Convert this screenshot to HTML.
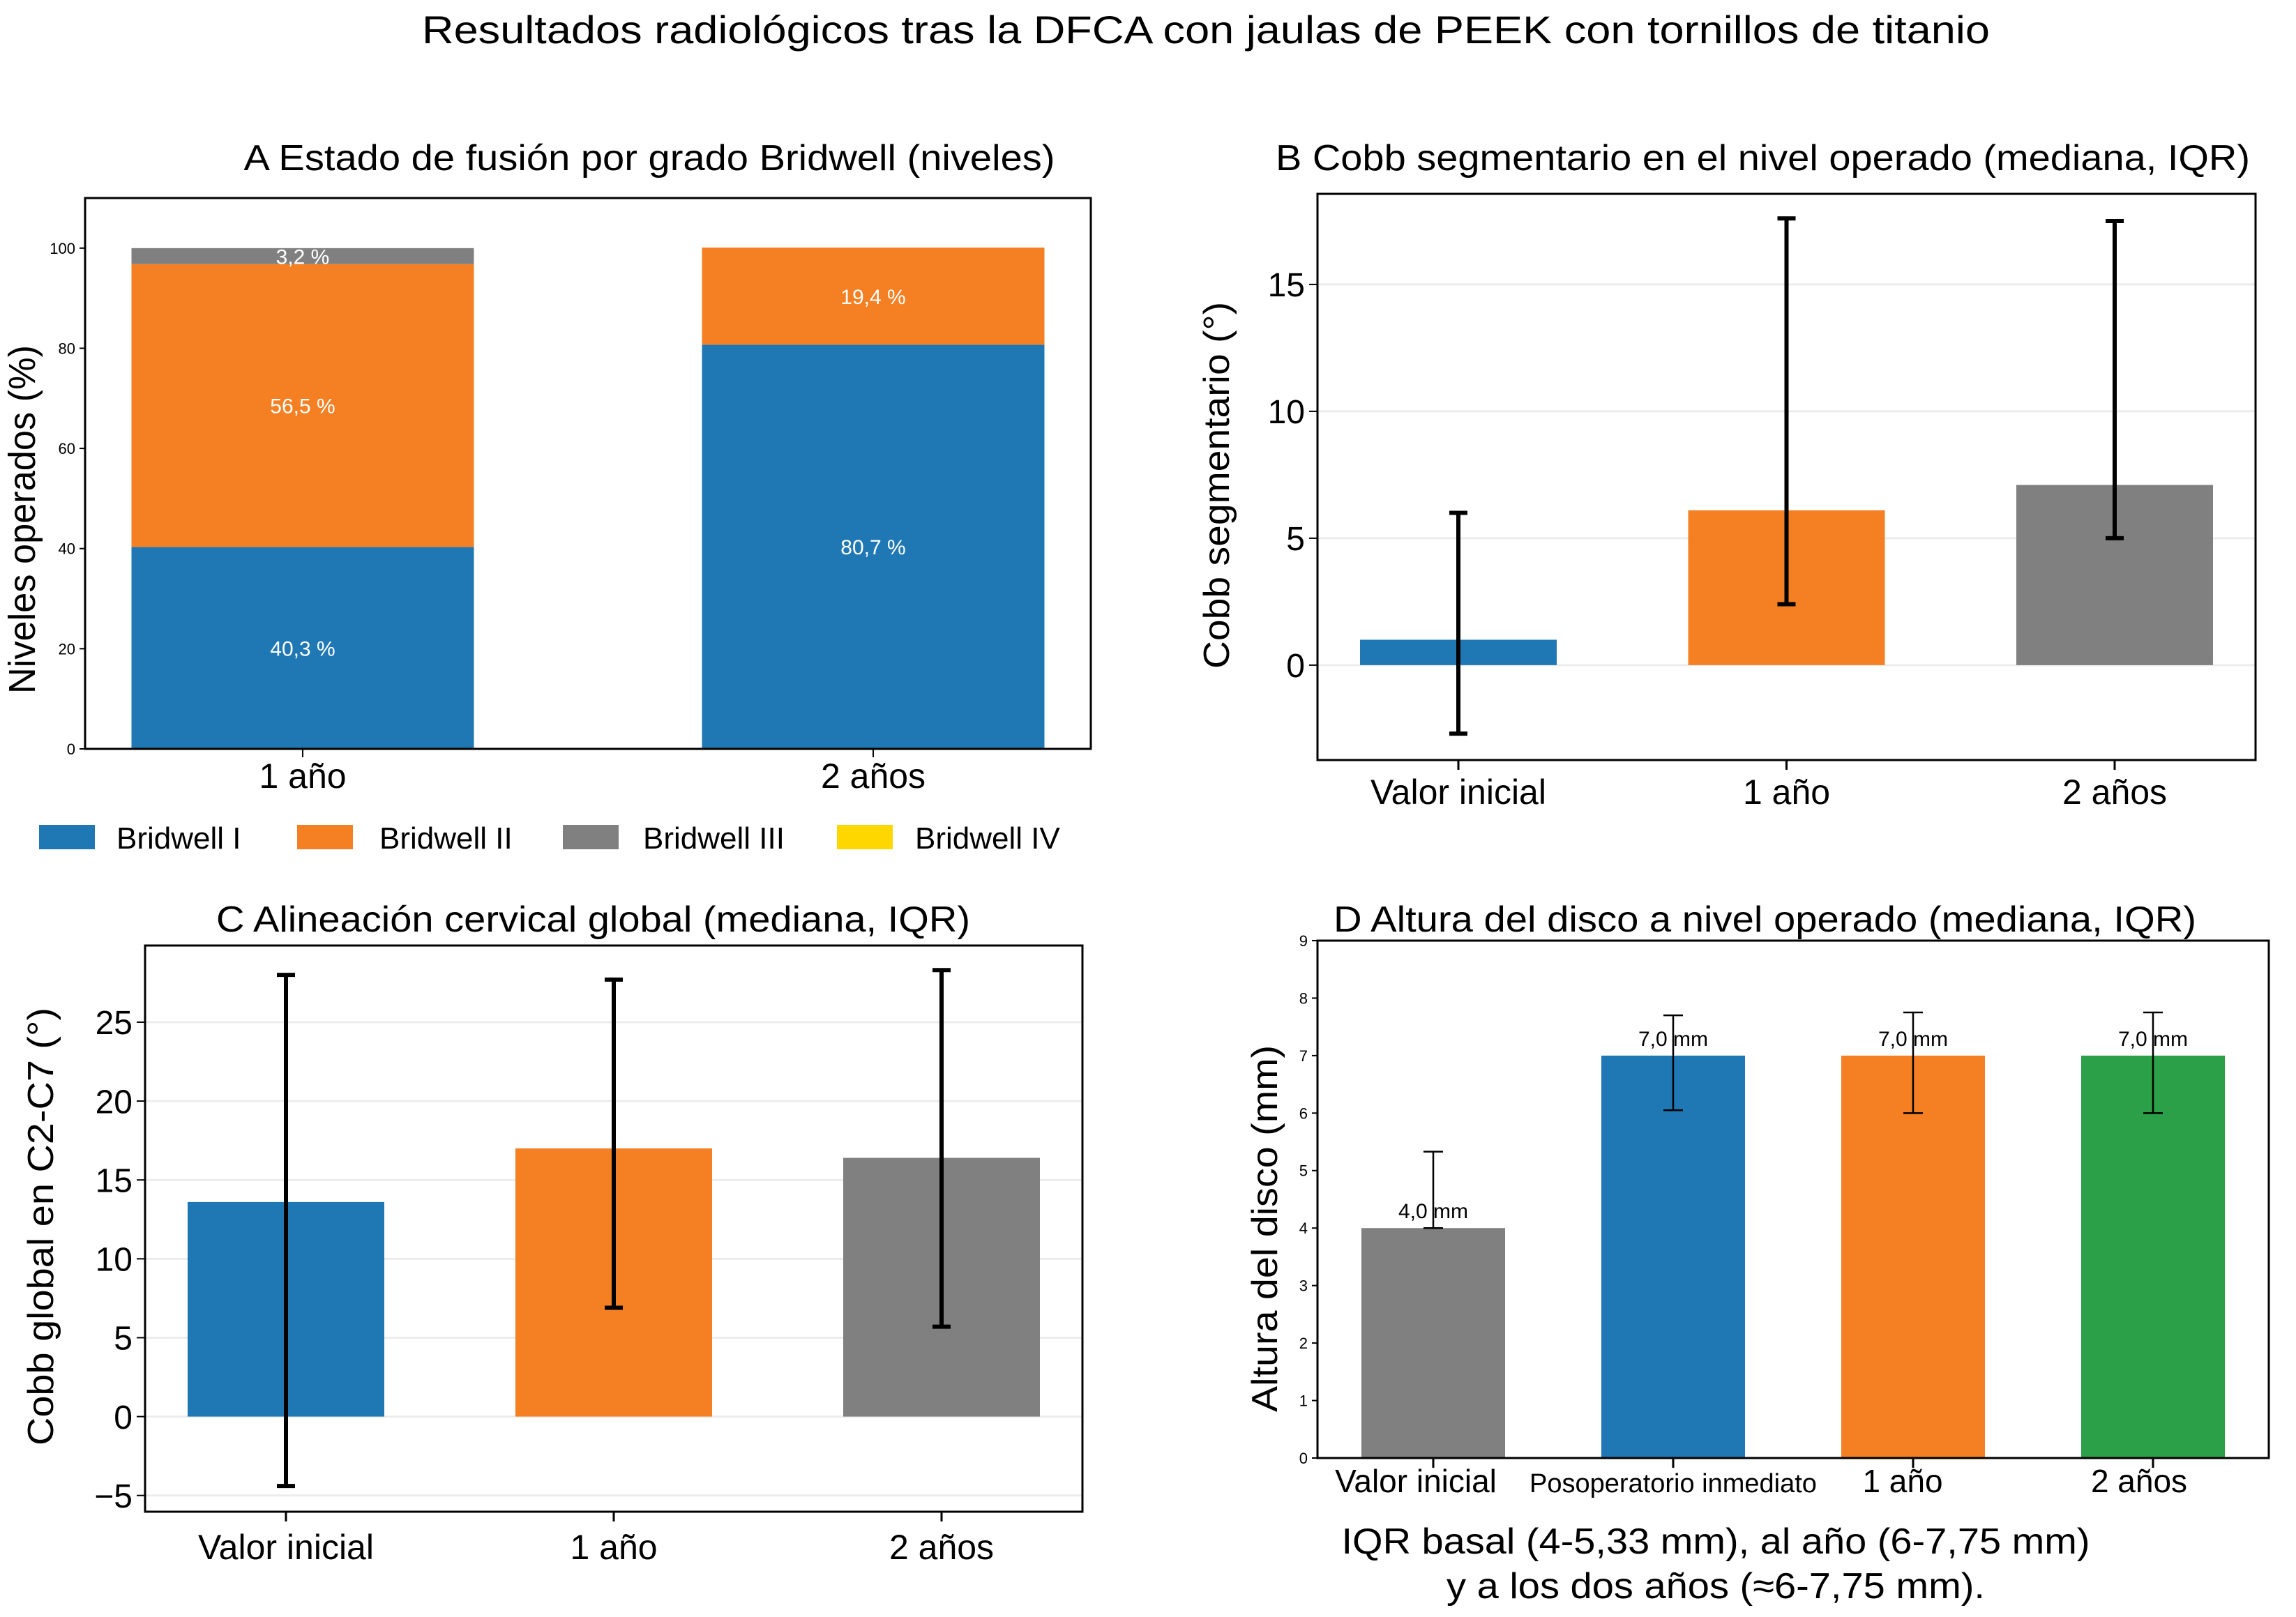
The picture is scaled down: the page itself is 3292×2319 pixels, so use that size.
<!DOCTYPE html>
<html><head><meta charset="utf-8"><style>body{margin:0;background:#fff;overflow:hidden}svg{display:block}text{font-family:"Liberation Sans",sans-serif;fill:#000}</style></head>
<body>
<svg id="fig" width="3292" height="2319" viewBox="0 0 3292 2319" xmlns="http://www.w3.org/2000/svg">
<text x="1729" y="62" font-size="56" text-anchor="middle" textLength="2248" lengthAdjust="spacingAndGlyphs">Resultados radiológicos tras la DFCA con jaulas de PEEK con tornillos de titanio</text>
</svg>
<script>
const NS='http://www.w3.org/2000/svg';
const svg=document.getElementById('fig');
function el(tag,attrs,parent,txt){const e=document.createElementNS(NS,tag);for(const k in attrs)e.setAttribute(k,attrs[k]);if(txt!==undefined)e.textContent=txt;(parent||svg).appendChild(e);return e;}

// ---- Panel A data ----
const aCategories=['1 año','2 años'];
const aBridwellI=[40.3,80.7];
const aBridwellII=[56.5,19.4];
const aBridwellIII=[3.2,0];
const aBridwellIV=[0,0];
const aTicks=[0,20,40,60,80,100];
// ---- Panel B data ----
const bCategories=['Valor inicial','1 año','2 años'];
const bMedian=[1.0,6.1,7.1];
const bLow=[-2.7,2.4,5.0];
const bHigh=[6.0,17.6,17.5];
const bTicks=[0,5,10,15];
// ---- Panel C data ----
const cCategories=['Valor inicial','1 año','2 años'];
const cMedian=[13.6,17.0,16.4];
const cLow=[-4.4,6.9,5.7];
const cHigh=[28.0,27.7,28.3];
const cTicks=[-5,0,5,10,15,20,25];
// ---- Panel D data ----
const dCategories=['Valor inicial','Posoperatorio inmediato','1 año','2 años'];
const dMedian=[4.0,7.0,7.0,7.0];
const dLow=[4.0,6.05,6.0,6.0];
const dHigh=[5.33,7.7,7.75,7.75];
const dLabels=['4,0 mm','7,0 mm','7,0 mm','7,0 mm'];
const dTicks=[0,1,2,3,4,5,6,7,8,9];

const BLUE='#1f77b4',ORANGE='#f58023',GRAY='#808080',GREEN='#2ca048',YELLOW='#ffd700';

function makeAxis(o){
  const g=el('g',{});
  
  
  const y=v=>o.y0+(v-o.ymin)/(o.ymax-o.ymin)*(o.y1-o.y0);
  const n=o.cats.length;
  const x=i=>o.x0+o.pad+(i)*(o.x1-o.x0-2*o.pad)/(n-1);
  return {g,y,x};
}
function frame(g,o,name){
  const r=el('rect',{x:o.x0,y:o.y1,width:o.x1-o.x0,height:o.y0-o.y1,fill:'none',stroke:'#000','stroke-width':o.sw||3},g);
  
}

// ===== Panel A =====
(function(){
  const o={name:'panel-a',x0:122,x1:1564,y0:1074,y1:284,ymin:0,ymax:110,cats:aCategories,pad:312};
  const A=makeAxis(o);const g=A.g;
  const t=el('text',{x:931,y:244,'font-size':52,'text-anchor':'middle',textLength:1163,lengthAdjust:'spacingAndGlyphs'},g,'A Estado de fusión por grado Bridwell (niveles)');
  
  const bw=491;
  const series=[[aBridwellI,BLUE,'bridwell-i'],[aBridwellII,ORANGE,'bridwell-ii'],[aBridwellIII,GRAY,'bridwell-iii'],[aBridwellIV,YELLOW,'bridwell-iv']];
  aCategories.forEach((c,i)=>{
    let base=0;const cx=A.x(i);
    series.forEach(s=>{
      const v=s[0][i];if(v>0){
        const r=el('rect',{x:cx-bw/2,y:A.y(base+v),width:bw,height:A.y(base)-A.y(base+v),fill:s[1]},g);
        
        const lbl=el('text',{x:cx,y:(A.y(base+v)+A.y(base))/2+11,'font-size':30,'text-anchor':'middle',style:'fill:#fff'},g,v.toFixed(1).replace('.',',')+' %');
        
      }
      base+=v;
    });
    el('line',{x1:cx,x2:cx,y1:o.y0,y2:o.y0+12,stroke:'#000','stroke-width':2},g);
    const tl=el('text',{x:cx,y:1130,'font-size':50,'text-anchor':'middle'},g,c);
    
  });
  aTicks.forEach(v=>{
    el('line',{x1:o.x0-8,x2:o.x0,y1:A.y(v),y2:A.y(v),stroke:'#000','stroke-width':2},g);
    const tl=el('text',{x:o.x0-14,y:A.y(v)+8,'font-size':22,'text-anchor':'end'},g,String(v));
    
  });
  frame(g,o,'panel-a-frame');
  const yl=el('text',{x:0,y:0,'font-size':54,'text-anchor':'middle',transform:'translate(50,745) rotate(-90)',textLength:500,lengthAdjust:'spacingAndGlyphs'},g,'Niveles operados (%)');
  
  const leg=[[56,167,BLUE,'Bridwell I'],[426,544,ORANGE,'Bridwell II'],[807,922,GRAY,'Bridwell III'],[1200,1312,YELLOW,'Bridwell IV']];
  leg.forEach(L=>{
    const lg=el('g',{},g);
    el('rect',{x:L[0],y:1183,width:80,height:35,fill:L[2]},lg);
    el('text',{x:L[1],y:1217,'font-size':44},lg,L[3]);
  });
})();

// ===== Generic bar+IQR panel =====
function iqrPanel(o,cats,med,lo,hi,ticks,colors,title,ylabel,extra){
  const A=makeAxis(o);const g=A.g;
  const t=el('text',{x:(o.tx0+o.tx1)/2,y:o.ty,'font-size':52,'text-anchor':'middle',textLength:o.tx1-o.tx0,lengthAdjust:'spacingAndGlyphs'},g,title);
  
  if(o.grid) ticks.forEach(v=>{el('line',{x1:o.x0,x2:o.x1,y1:A.y(v),y2:A.y(v),stroke:'#ececec','stroke-width':3},g);});
  cats.forEach((c,i)=>{
    const cx=A.x(i);
    const r=el('rect',{x:cx-o.bw/2,y:A.y(med[i]),width:o.bw,height:A.y(0)-A.y(med[i]),fill:colors[i]},g);
    
    const eg=el('g',{stroke:'#000','stroke-width':o.esw},g);
    
    el('line',{x1:cx,x2:cx,y1:A.y(lo[i]),y2:A.y(hi[i])},eg);
    el('line',{x1:cx-o.cap,x2:cx+o.cap,y1:A.y(lo[i]),y2:A.y(lo[i])},eg);
    el('line',{x1:cx-o.cap,x2:cx+o.cap,y1:A.y(hi[i]),y2:A.y(hi[i])},eg);
    el('line',{x1:cx,x2:cx,y1:o.y0,y2:o.y0+14,stroke:'#000','stroke-width':3},g);
    const tl=el('text',{x:cx+(o.xoff?o.xoff[i]:0),y:o.xly,'font-size':o.xfs[i]||o.xfs[0],'text-anchor':'middle'},g,c);
    
    if(extra){const l=el('text',{x:cx,y:A.y(med[i])-14,'font-size':30,'text-anchor':'middle'},g,extra[i]);}
  });
  ticks.forEach(v=>{
    el('line',{x1:o.x0-o.tk,x2:o.x0,y1:A.y(v),y2:A.y(v),stroke:'#000','stroke-width':2},g);
    const tl=el('text',{x:o.x0-o.tk-6,y:A.y(v)+o.yfs*0.36,'font-size':o.yfs,'text-anchor':'end'},g,String(v).replace('-','−'));
    
  });
  frame(g,o,o.name+'-frame');
  const yl=el('text',{x:0,y:0,'font-size':52,'text-anchor':'middle',transform:'translate('+o.ylx+','+o.yly+') rotate(-90)',textLength:o.ylen,lengthAdjust:'spacingAndGlyphs'},g,ylabel);
  
  return g;
}

iqrPanel({name:'panel-b',x0:1889,x1:3234,y0:1090,y1:278,ymin:-3.74,ymax:18.57,cats:bCategories,pad:202,bw:282,esw:6,cap:13,grid:true,tk:12,yfs:48,xfs:[50],xly:1153,tx0:1829,tx1:3226,ty:244,ylx:1762,yly:696,ylen:526},
  bCategories,bMedian,bLow,bHigh,bTicks,[BLUE,ORANGE,GRAY],'B Cobb segmentario en el nivel operado (mediana, IQR)','Cobb segmentario (°)');

iqrPanel({name:'panel-c',x0:208,x1:1552,y0:2168,y1:1356,ymin:-6.03,ymax:29.86,cats:cCategories,pad:202,bw:282,esw:6,cap:13,grid:true,tk:12,yfs:48,xfs:[50],xly:2236,tx0:310,tx1:1391,ty:1336,ylx:76,yly:1759,ylen:628},
  cCategories,cMedian,cLow,cHigh,cTicks,[BLUE,ORANGE,GRAY],'C Alineación cervical global (mediana, IQR)','Cobb global en C2-C7 (°)');

iqrPanel({name:'panel-d',x0:1889,x1:3253,y0:2091,y1:1349,ymin:0,ymax:9,cats:dCategories,pad:166,bw:206,esw:2.5,cap:14,grid:false,tk:8,yfs:22,xfs:[46,38,46,46],xoff:[-25,0,-15,-20],xly:2140,tx0:1912,tx1:3149,ty:1336,ylx:1831,yly:1762,ylen:526},
  dCategories,dMedian,dLow,dHigh,dTicks,[GRAY,BLUE,ORANGE,GREEN],'D Altura del disco a nivel operado (mediana, IQR)','Altura del disco (mm)',dLabels);

const c1=el('text',{x:2460,y:2228,'font-size':52,'text-anchor':'middle',textLength:1073,lengthAdjust:'spacingAndGlyphs'},svg,'IQR basal (4-5,33 mm), al año (6-7,75 mm)');

const c2=el('text',{x:2460,y:2292,'font-size':52,'text-anchor':'middle',textLength:772,lengthAdjust:'spacingAndGlyphs'},svg,'y a los dos años (≈6-7,75 mm).');

</script>
</body></html>
